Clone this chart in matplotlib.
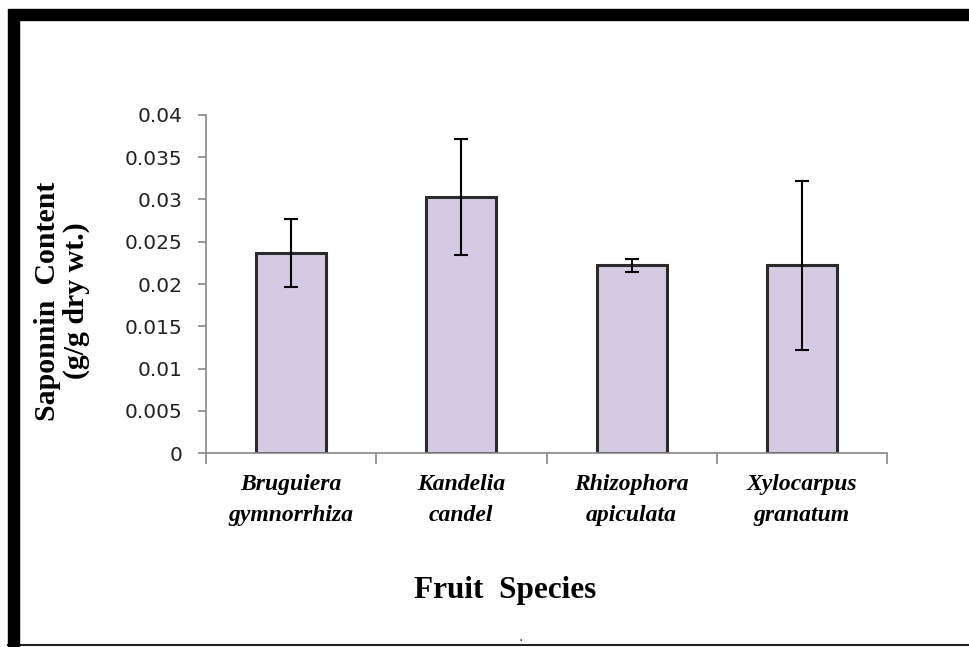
import matplotlib.pyplot as plt
from matplotlib.patches import Rectangle
from matplotlib.lines import Line2D
import numpy as np

# data
species = ["Bruguiera\ngymnorrhiza", "Kandelia\ncandel", "Rhizophora\napiculata", "Xylocarpus\ngranatum"]
saponin = [0.0237, 0.0303, 0.0222, 0.0222]
saponin_err = [0.0040, 0.0069, 0.0008, 0.0100]
yticks = [0, 0.005, 0.01, 0.015, 0.02, 0.025, 0.03, 0.035, 0.04]
ytick_labels = ["0", "0.005", "0.01", "0.015", "0.02", "0.025", "0.03", "0.035", "0.04"]

fig = plt.figure(figsize=(9.69, 6.47), dpi=100)
ax = fig.add_axes([0.2126, 0.2998, 0.7028, 0.5225])

x = np.arange(len(species))
ax.bar(x, saponin, width=0.41, color="#d4cbe3", edgecolor="#2b2b2b", linewidth=2.2, zorder=2)
ax.errorbar(x, saponin, yerr=saponin_err, fmt="none", ecolor="black",
            elinewidth=1.5, capsize=5, capthick=1.5, zorder=3)

ax.set_xlim(-0.5, len(species) - 0.5)
ax.set_ylim(0, 0.04)
ax.set_yticks(yticks)
ax.set_yticklabels(ytick_labels, fontsize=14.5, color="#222222")

# category ticks sit on the boundaries between bars
ax.set_xticks(np.arange(-0.5, len(species)))
ax.set_xticklabels([""] * (len(species) + 1))
ax.tick_params(axis="x", direction="out", length=8, color="#888888", width=1.2)
ax.tick_params(axis="y", direction="out", length=6, color="#888888", width=1.2, pad=11)
for i, name in enumerate(species):
    ax.text(i, -0.0025, name, ha="center", va="top", fontsize=17, style="italic",
            fontweight="bold", family="Liberation Serif", linespacing=1.6)

for side in ["top", "right"]:
    ax.spines[side].set_visible(False)
for side in ["left", "bottom"]:
    ax.spines[side].set_color("#888888")
    ax.spines[side].set_linewidth(1.2)

fig.text(0.064, 0.535, "Saponnin  Content\n(g/g dry wt.)", rotation=90, ha="center", va="center",
         fontsize=21.5, fontweight="bold", family="Liberation Serif", linespacing=1.05)
fig.text(0.521, 0.088, "Fruit  Species", ha="center", va="center",
         fontsize=22.5, fontweight="bold", family="Liberation Serif")
fig.text(0.537, 0.016, ".", ha="center", va="center", fontsize=10, color="#333333")

# thick frame around the picture, cut off on the right
fig.patches.append(Rectangle((8 / 969, 1 - 20 / 647), 1, 11 / 647, transform=fig.transFigure,
                             color="black", zorder=10))
fig.patches.append(Rectangle((8 / 969, 1 / 647), 11 / 969, 1 - 21 / 647, transform=fig.transFigure,
                             color="black", zorder=10))
fig.lines.append(Line2D([8 / 969, 1], [2 / 647, 2 / 647], transform=fig.transFigure,
                        color="#222222", linewidth=1.5, zorder=10))

fig.savefig("out.png", dpi=100)
